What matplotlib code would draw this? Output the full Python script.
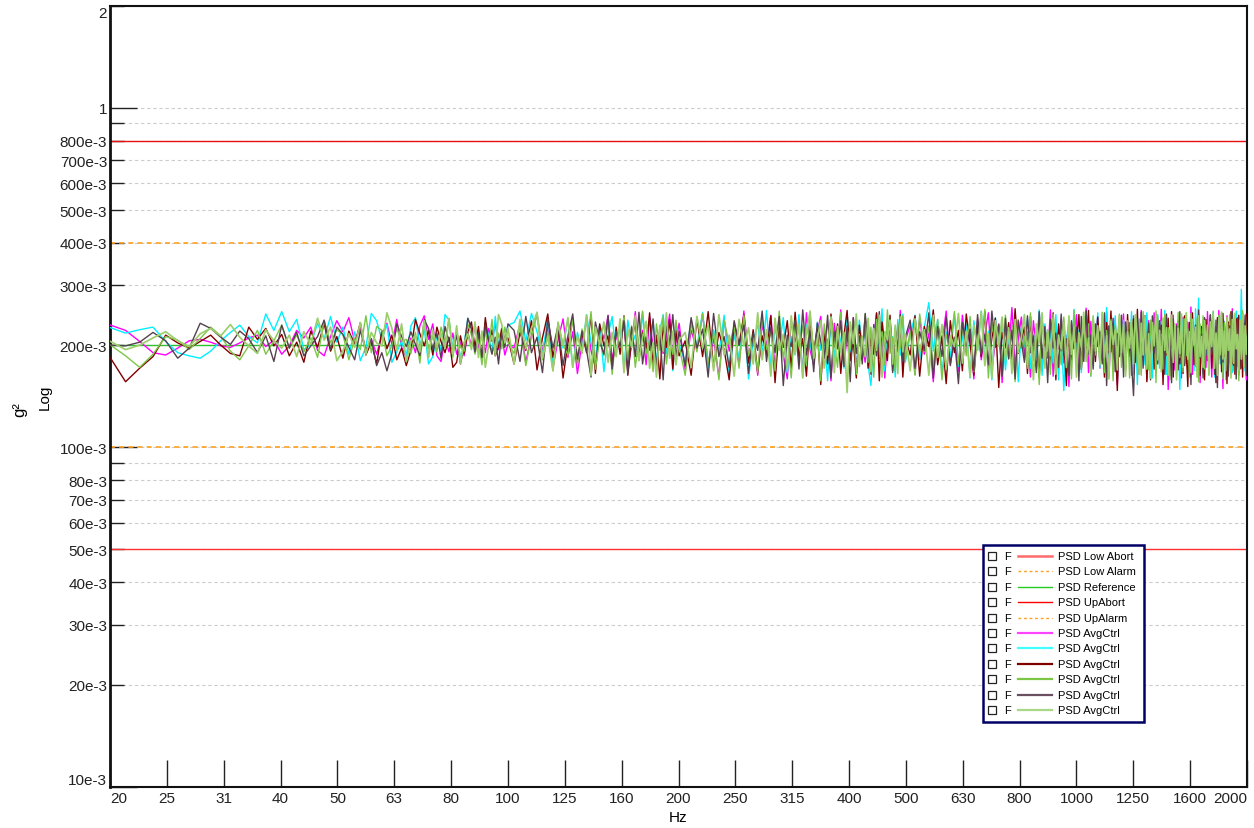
import numpy as np
import matplotlib.pyplot as plt
from matplotlib.patches import Rectangle
from matplotlib.lines import Line2D
from matplotlib.ticker import NullLocator

plt.rcParams['font.family'] = ['Liberation Sans', 'DejaVu Sans']

# spectral lines (Hz): finer at the low end, coarser where the traces turn into a band
freq = np.concatenate([np.arange(20, 100.01, 1.25), np.arange(102.5, 200.01, 2.5),
                       np.arange(205, 500.01, 5), np.arange(510, 2000.01, 10)])

# limit / reference levels (g^2)
abort_low = 0.05
alarm_low = 0.1
reference = 0.2
abort_up = 0.8
alarm_up = 0.4

# averaged control PSDs, in milli-g^2
ctrl_magenta = [
    229,221,205,190,187,196,206,208,204,199,197,203,210,
    214,198,207,188,199,221,210,226,193,186,212,236,219,
    241,205,226,193,208,188,214,232,201,238,197,184,210,
    190,228,244,208,231,186,179,209,191,217,188,204,186,
    218,199,229,196,214,190,224,205,233,194,215,187,201,
    196,231,178,214,248,191,226,172,207,239,
    184,219,165,203,236,193,171,228,209,245,
    180,214,193,237,168,202,251,186,221,175,
    242,197,168,226,189,213,247,178,204,232,
    168,221,194,247,176,209,161,238,192,226,174,252,185,213,163,
    231,199,245,171,218,187,159,236,204,227,166,249,193,175,219,
    243,182,208,157,232,196,254,173,215,188,241,164,222,201,178,
    237,169,211,248,183,226,160,205,239,177,219,192,253,171,206,
    229,164,241,188,217,156,233,201,252,176,210,167,245,193,222,
    159,238,181,214,249,170,203,231,155,226,190,258,173,208,242,
    185,219,161,236,197,248,168,212,183,254,162,227,195,240,177,
    213,151,232,204,246,174,219,189,257,166,235,182,209,243,171,
    228,194,250,160,215,186,239,153,222,199,247,179,206,233,163,
    244,188,216,170,253,196,228,158,236,181,212,249,167,224,192,
    255,174,207,238,148,221,197,245,169,231,184,216,160,242,203,
    176,234,189,259,164,213,228,180,247,155,219,196,237,172,251,
    186,206,161,240,195,226,174,253,182,214,149,235,201,244,168,
    227,191,256,170,218,185,241,163,230,198,249,176,209,158,237,
]
ctrl_cyan = [
    225,217,222,226,205,190,186,183,192,206,218,229,212,
    203,247,221,251,219,238,194,201,232,209,243,204,226,
    188,219,180,197,248,236,207,230,178,191,205,186,228,
    241,199,223,176,185,214,192,246,237,196,221,183,201,
    240,226,193,218,180,235,212,189,243,198,219,207,229,
    233,252,206,248,219,187,241,176,225,196,
    239,172,218,191,246,204,183,229,167,214,
    243,188,226,170,237,199,214,181,250,193,
    208,235,176,221,246,189,211,168,232,201,
    179,236,198,250,171,222,190,245,164,215,183,238,159,207,229,
    188,253,172,224,196,241,166,212,187,246,161,229,203,176,234,
    193,219,157,243,182,226,205,171,248,190,214,163,237,198,221,
    175,152,206,243,184,256,168,229,195,212,161,238,187,247,178,
    214,245,181,226,267,192,238,165,219,184,247,173,209,231,160,
    236,193,252,176,220,158,241,201,229,169,214,187,248,156,225,
    198,239,171,215,184,254,163,231,192,219,177,246,158,222,147,
    205,236,179,255,188,221,166,244,197,213,162,233,185,249,172,
    218,191,258,167,230,183,244,159,212,196,237,170,224,186,251,
    164,227,153,239,200,217,175,249,181,230,160,214,193,246,171,
    235,188,253,164,221,197,241,176,215,163,229,148,208,238,182,
    247,173,224,192,233,168,256,199,275,181,219,165,241,187,213,
    170,238,196,250,161,225,184,243,176,209,192,234,158,227,201,
    178,244,166,231,189,252,173,220,197,292,183,236,168,214,195,
]
ctrl_darkred = [
    183,156,171,185,214,203,196,205,214,200,189,186,226,
    208,224,199,215,186,204,178,220,197,231,192,212,183,
    220,201,233,187,204,176,221,195,214,181,196,174,193,
    238,216,199,221,187,226,205,190,211,172,178,213,189,
    219,234,197,227,183,241,201,222,186,198,224,207,210,
    176,218,193,236,169,210,247,184,225,160,
    203,239,178,217,190,245,165,231,199,213,
    171,226,188,244,163,207,232,181,218,194,
    249,175,214,159,228,197,238,170,221,186,
    206,163,239,185,251,172,218,194,158,232,201,246,177,222,166,
    213,188,244,155,226,197,236,171,250,183,209,162,238,191,224,
    153,219,176,247,198,231,165,214,253,180,206,160,229,193,242,
    171,216,188,249,157,234,202,180,245,168,221,195,238,161,210,
    187,244,162,227,198,254,175,213,154,236,190,221,168,247,201,
    163,229,185,251,172,210,240,150,218,196,233,178,256,189,207,
    226,165,243,183,214,161,237,199,220,176,249,158,231,192,212,
    152,238,181,226,204,246,170,215,188,253,166,229,179,242,195,
    216,161,233,189,252,174,208,147,237,198,223,169,246,185,219,
    239,178,255,164,221,192,244,156,213,181,232,170,249,194,206,
    229,153,218,187,240,172,251,161,225,199,236,176,214,165,244,
    191,151,233,208,249,175,219,186,243,163,227,194,158,238,180,
    217,245,171,230,192,155,241,202,226,167,248,185,212,154,234,
    198,251,176,223,164,239,189,245,170,218,161,232,196,247,207,
]
ctrl_green = [
    200,186,172,188,212,207,194,209,226,213,192,181,199,
    221,188,206,229,196,214,191,210,184,236,203,222,215,
    181,209,194,244,190,227,221,186,199,224,205,208,189,
    218,177,234,195,212,191,226,203,240,184,219,197,192,
    231,214,188,209,175,221,196,238,186,217,195,226,204,
    189,227,174,212,246,181,219,168,234,201,
    187,240,176,223,195,251,170,209,186,238,
    164,219,197,243,181,228,172,210,252,189,
    205,167,231,193,244,176,214,188,237,198,
    163,232,191,248,176,219,158,237,201,226,171,245,186,212,166,
    240,194,221,168,252,183,209,160,235,198,228,174,246,191,217,
    157,231,187,243,205,172,250,180,224,195,239,164,215,188,247,
    178,226,161,238,202,219,175,254,189,211,167,233,196,244,181,
    221,163,247,192,228,171,238,158,215,199,251,176,226,186,243,
    167,210,189,255,160,233,201,218,173,245,184,229,156,238,196,
    212,171,249,180,224,153,236,203,219,164,247,189,209,175,242,
    195,227,159,253,183,216,170,240,198,231,162,244,187,213,178,
    250,166,221,193,238,157,229,206,247,172,217,185,236,160,224,
    199,244,175,218,163,251,188,212,169,237,194,228,155,242,181,
    215,170,246,190,225,158,234,202,217,176,250,184,209,167,239,
    186,223,161,248,197,214,173,240,156,231,189,244,170,219,204,
    163,237,193,252,178,211,165,245,187,226,159,233,201,218,174,
    246,183,229,168,240,195,214,157,236,188,253,171,222,180,243,
]
ctrl_purple = [
    200,199,204,218,206,183,196,232,224,211,201,220,209,
    190,213,179,229,196,218,186,199,212,237,194,226,215,
    197,181,221,193,209,174,190,168,189,231,212,198,219,
    201,186,238,224,194,217,183,227,205,192,214,176,199,
    240,223,191,216,184,229,206,188,211,176,218,197,231,
    221,179,243,190,211,166,238,196,228,174,
    213,247,182,220,193,161,234,205,188,244,
    170,219,198,236,165,226,185,250,176,211,
    193,239,172,216,158,229,201,246,183,220,
    174,241,196,223,161,248,185,212,172,236,200,229,165,217,193,
    252,179,226,190,243,152,214,198,237,170,254,187,221,167,232,
    205,183,245,160,219,195,236,173,228,156,241,189,213,176,248,
    198,164,230,186,251,174,218,202,240,166,225,191,246,179,211,
    237,171,219,193,249,160,227,185,242,174,211,154,233,199,223,
    168,246,188,215,175,252,197,230,162,240,182,221,159,236,205,
    178,244,190,213,166,251,183,227,155,238,196,217,172,247,186,
    209,163,236,195,226,157,243,179,253,188,214,170,231,198,219,
    176,249,152,228,191,240,167,216,185,245,161,234,203,222,178,
    142,213,238,184,250,171,226,197,232,158,244,189,211,176,236,
    199,222,164,247,181,215,155,239,193,228,169,251,186,210,174,
    243,190,219,153,235,204,229,172,254,183,216,160,241,196,225,
    170,246,188,208,164,237,150,221,199,249,178,213,186,232,162,
    228,195,251,174,219,159,240,185,233,171,223,190,245,163,216,
]
ctrl_lightgreen = [
    205,194,200,210,219,206,198,216,224,213,230,211,199,
    189,222,206,196,214,185,219,201,240,207,226,180,192,
    216,197,233,188,218,203,199,249,224,193,231,179,206,
    213,191,236,184,221,198,217,196,239,188,228,177,204,
    216,194,234,184,220,172,201,213,190,246,231,203,224,
    176,238,195,224,250,183,212,168,231,199,
    241,172,213,189,245,163,226,201,234,178,
    218,185,239,166,222,197,244,180,211,235,
    171,204,161,229,192,249,183,220,175,207,
    218,172,243,196,229,168,246,187,214,162,238,199,225,176,249,
    181,222,162,240,193,215,170,244,188,231,160,219,252,183,208,
    236,171,198,241,166,227,190,218,145,234,202,247,173,212,185,
    240,167,224,193,245,161,219,207,237,176,229,165,242,191,216,
    168,239,191,222,163,245,184,230,170,213,198,248,177,220,161,
    229,194,251,174,216,160,236,199,242,180,225,165,238,190,211,
    246,175,217,158,231,203,249,171,222,186,240,164,214,195,233,
    172,244,188,226,161,218,197,250,179,210,166,241,192,228,175,
    247,184,213,159,235,201,222,169,244,190,230,162,219,196,238,
    176,246,209,164,232,187,243,170,216,160,233,199,252,181,221,
    167,240,193,225,163,214,245,178,231,158,224,189,247,172,210,
    249,182,219,166,238,200,226,161,244,185,212,172,236,195,229,
    165,234,198,247,171,217,163,240,188,250,182,220,168,241,193,
    223,160,238,177,248,195,215,169,237,182,246,173,228,188,214,
]

x_tick_labels = ['20', '25', '31', '40', '50', '63', '80', '100', '125', '160', '200',
                 '250', '315', '400', '500', '630', '800', '1000', '1250', '1600', '2000']
y_major = [0.01, 0.1, 1]
y_major_labels = ['10e-3', '100e-3', '1']
y_minor = [0.02, 0.03, 0.04, 0.05, 0.06, 0.07, 0.08, 0.09,
           0.2, 0.3, 0.4, 0.5, 0.6, 0.7, 0.8, 0.9, 2]
y_minor_labels = ['20e-3', '30e-3', '40e-3', '50e-3', '60e-3', '70e-3', '80e-3', '',
                  '200e-3', '300e-3', '400e-3', '500e-3', '600e-3', '700e-3', '800e-3', '', '2']

legend_labels = ['PSD Low Abort', 'PSD Low Alarm', 'PSD Reference', 'PSD UpAbort',
                 'PSD UpAlarm'] + ['PSD AvgCtrl'] * 6

ctrl_series = [ctrl_magenta, ctrl_cyan, ctrl_darkred, ctrl_green, ctrl_purple, ctrl_lightgreen]
ctrl_colors = ['#ff00ff', '#00f0ff', '#800000', '#7cc646', '#56404f', '#9ccf6c']
ctrl_widths = [1.0, 1.0, 1.0, 1.0, 1.0, 1.25]

W, H = 1254, 829
fig = plt.figure(figsize=(W / 100, H / 100), dpi=100)
ax = fig.add_axes([110 / W, 1 - 787.7 / H, (1247 - 110) / W, (787.7 - 6.7) / H])

ax.set_xscale('log')
ax.set_yscale('log')

# limit lines
ax.axhline(abort_low, color='#ff3030', lw=1.0, zorder=2)
ax.axhline(alarm_low, color='#ffa020', lw=1.2, ls=(0, (3, 2.5)), zorder=2)
ax.axhline(reference, color='#30c030', lw=1.0, zorder=2)
ax.axhline(abort_up, color='#e81010', lw=1.0, zorder=2)
ax.axhline(alarm_up, color='#ffa020', lw=1.2, ls=(0, (3, 2.5)), zorder=2)

for vals, col, lw in zip(ctrl_series, ctrl_colors, ctrl_widths):
    ax.plot(freq, np.array(vals) / 1000, color=col, lw=lw, zorder=3)

ax.set_xlim(10 ** 1.3, 10 ** 3.3)
ax.set_ylim(0.01, 2)

ax.set_xticks(10 ** (np.arange(13, 34) / 10), labels=x_tick_labels)
ax.xaxis.set_minor_locator(NullLocator())
ax.set_yticks(y_major, labels=y_major_labels)
ax.set_yticks(y_minor, labels=y_minor_labels, minor=True)

ax.tick_params(axis='both', which='both', direction='in', colors='#222222',
               labelsize=11, width=1)
ax.tick_params(axis='x', which='major', length=19.5, pad=3)
ax.tick_params(axis='y', which='major', length=19.5, pad=2)
ax.tick_params(axis='y', which='minor', length=10, pad=2)

xl = ax.get_xticklabels()
xl[0].set_ha('left')
xl[-1].set_ha('right')
ax.get_yticklabels()[0].set_va('bottom')
ax.yaxis.get_minorticklabels()[-1].set_va('top')

ax.grid(True, axis='y', which='both', color='#cccccc', ls=(0, (3, 2.5)), lw=0.8)
ax.set_axisbelow(True)

for side in ['left', 'bottom', 'top', 'right']:
    ax.spines[side].set_color('#111111')
    ax.spines[side].set_linewidth(1.5)
ax.spines['left'].set_linewidth(2)

fig.text(678 / W, 1 - 818 / H, 'Hz', ha='center', va='center', fontsize=11)
fig.text(20 / W, 1 - 410 / H, 'g²', rotation=90, ha='center', va='center', fontsize=12)
fig.text(45 / W, 1 - 397 / H, 'Log', rotation=90, ha='center', va='center', fontsize=11)

# legend, drawn by hand to get the checkbox / F columns
fig.add_artist(Rectangle((983 / W, 1 - 723 / H), (1144 - 983) / W, (723 - 546) / H,
                         transform=fig.transFigure, facecolor='white',
                         edgecolor='#000066', lw=1.8, zorder=10))
leg_styles = [('#ff6a6a', '-', 1.8), ('#ffa020', (0, (2, 2)), 1.0), ('#22cc22', '-', 1.0),
              ('#ff0000', '-', 1.0), ('#ffa020', (0, (2, 2)), 1.0)] + \
             [(c, '-', 1.6) for c in ['#ff44ff', '#44ffff', '#800000', '#7cc646',
                                      '#6a5060', '#a8d888']]
for i, (lab, (col, ls, lw)) in enumerate(zip(legend_labels, leg_styles)):
    yc = 557 + i * 15.4
    fig.add_artist(Rectangle((988 / W, 1 - (yc + 4) / H), 8 / W, 8 / H,
                             transform=fig.transFigure, facecolor='none',
                             edgecolor='#222222', lw=0.9, zorder=11))
    fig.text(1004 / W, 1 - yc / H, 'F', ha='left', va='center', fontsize=8, zorder=11)
    fig.add_artist(Line2D([1018 / W, 1052 / W], [1 - yc / H, 1 - yc / H],
                          transform=fig.transFigure, color=col, ls=ls, lw=lw, zorder=11))
    fig.text(1058 / W, 1 - yc / H, lab, ha='left', va='center', fontsize=8, zorder=11)

fig.savefig('out.png', dpi=100)
